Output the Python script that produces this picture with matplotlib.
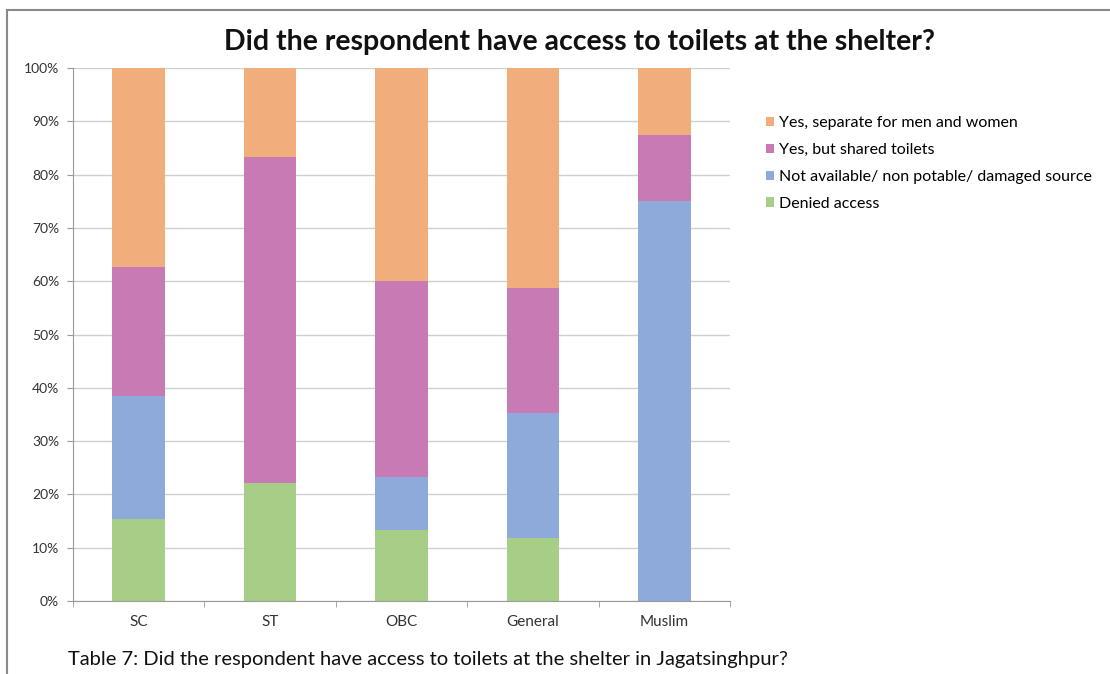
import numpy as np
import matplotlib.pyplot as plt
from matplotlib.patches import Rectangle

# Datos
grupos = ['SC', 'ST', 'OBC', 'General', 'Muslim']
negado = [15.4, 22.2, 13.3, 11.8, 0.0]          # Denied access
no_disp = [23.1, 0.0, 10.0, 23.5, 75.0]         # Not available/ non potable/ damaged source
compartido = [24.2, 61.1, 36.7, 23.5, 12.5]     # Yes, but shared toilets
separado = [37.3, 16.7, 40.0, 41.2, 12.5]       # Yes, separate for men and women

series = [
    ('Denied access', negado, '#a6ce86'),
    ('Not available/ non potable/ damaged source', no_disp, '#8eaadb'),
    ('Yes, but shared toilets', compartido, '#c87ab4'),
    ('Yes, separate for men and women', separado, '#f2ad7d'),
]

plt.rcParams['font.family'] = ['Lato', 'DejaVu Sans']

fig = plt.figure(figsize=(11.1, 6.74), dpi=100)
fig.patches.append(Rectangle((7/1110, -0.05), 1.1, 1 - 10/674 + 0.05,
                             transform=fig.transFigure, fill=False,
                             edgecolor='#8a8a8a', linewidth=1.5))

ax = fig.add_axes([73/1110, 1 - 601/674, 657/1110, 533/674])
x = np.arange(len(grupos))
base = np.zeros(len(grupos))
for nombre, vals, color in series:
    ax.bar(x, vals, 0.4, bottom=base, color=color, label=nombre, linewidth=0)
    base += np.array(vals)

ax.set_xlim(-0.5, len(grupos) - 0.5)
ax.set_ylim(0, 100)
ax.set_yticks(np.arange(0, 101, 10))
ax.set_yticklabels(['%d%%' % v for v in range(0, 101, 10)], fontsize=10, color='#333333')
ax.set_xticks(x)
ax.set_xticklabels(grupos, fontsize=11, color='#333333')
ax.set_xticks(np.arange(-0.5, len(grupos)), minor=True)
ax.tick_params(axis='x', which='major', length=0, pad=10)
ax.tick_params(axis='x', which='minor', length=4, color='#999999', direction='out')
ax.tick_params(axis='y', length=4, color='#999999', pad=6)
ax.grid(axis='y', color='#cfcfcf', linewidth=1)
ax.set_axisbelow(True)
for s in ['top', 'right']:
    ax.spines[s].set_visible(False)
for s in ['left', 'bottom']:
    ax.spines[s].set_color('#999999')

h, l = ax.get_legend_handles_labels()
fig.legend(h[::-1], l[::-1], loc='upper left', bbox_to_anchor=(752/1110, 1 - 102/674),
           frameon=False, handlelength=0.5, handleheight=0.5,
           handletextpad=0.3, labelspacing=0.8, prop={'size': 11.5})

fig.text(580/1110, 1 - 42/674, 'Did the respondent have access to toilets at the shelter?',
         ha='center', va='center', fontsize=20.5, fontweight='bold', color='#111111')
fig.text(68/1110, 1 - 660/674,
         'Table 7: Did the respondent have access to toilets at the shelter in Jagatsinghpur?',
         ha='left', va='center', fontsize=14.5, color='#111111')

fig.savefig('out.png', dpi=100)
